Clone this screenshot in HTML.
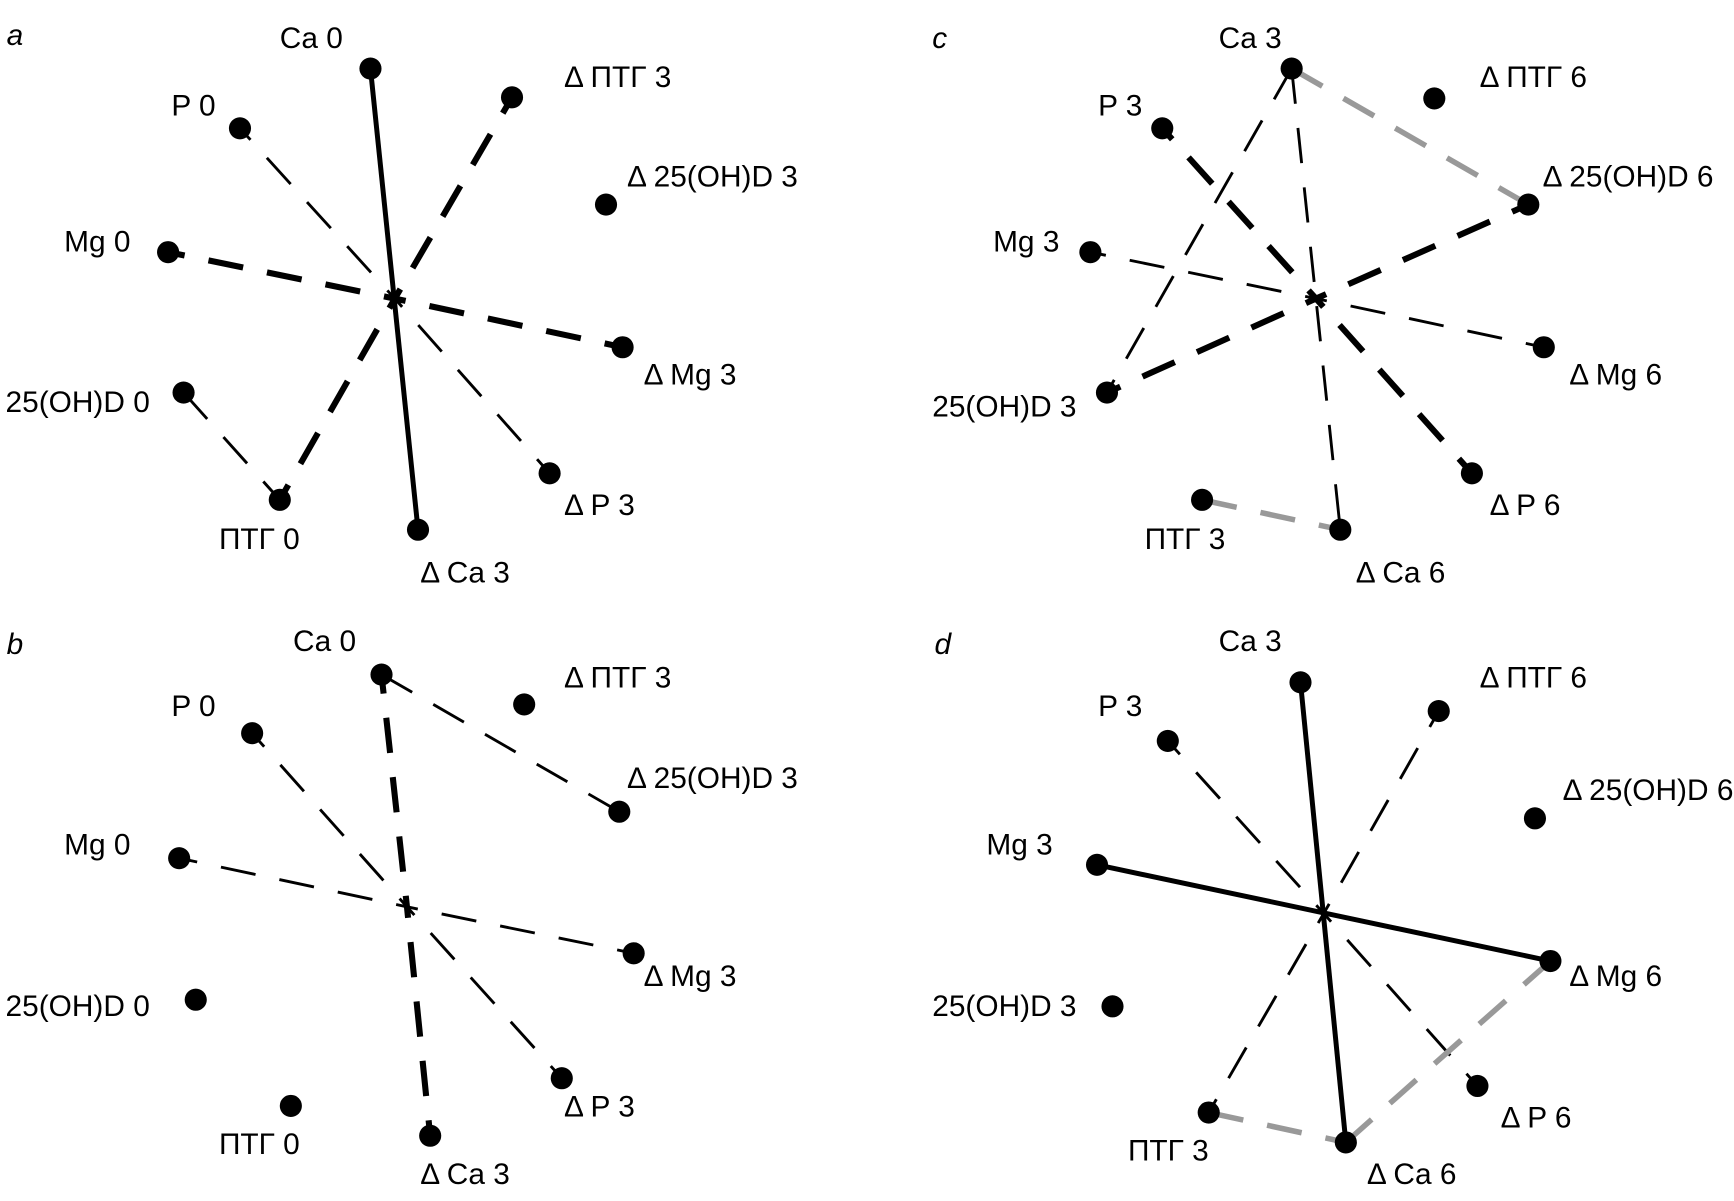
<!DOCTYPE html>
<html><head><meta charset="utf-8"><style>
html,body{margin:0;padding:0;background:#fff;}
svg{display:block;}
text{font-family:"Liberation Sans",sans-serif;font-size:27px;fill:#000;dominant-baseline:central;}
.it{font-style:italic;}
.tk{stroke:#000;stroke-width:5.5;stroke-dasharray:32 22;stroke-dashoffset:22;fill:none;}
.tn{stroke:#000;stroke-width:2.6;stroke-dasharray:32 22;stroke-dashoffset:22;fill:none;}
.sd{stroke:#000;stroke-width:4.5;fill:none;}
.gr{stroke:#999;stroke-width:5;stroke-dasharray:32 22;fill:none;}
.tnp{stroke:#000;stroke-width:2.6;stroke-dasharray:32 22;fill:none;}
</style></head><body>
<svg width="1734" height="1201" viewBox="0 0 1568 1086" preserveAspectRatio="none" xmlns="http://www.w3.org/2000/svg">
<!-- Panel a -->
<g>
<line class="sd" x1="335" y1="62" x2="378" y2="479"/>
<line class="tk" x1="357" y1="270" x2="463" y2="88"/>
<line class="tk" x1="357" y1="270" x2="253" y2="452"/>
<line class="tn" x1="357" y1="270" x2="217" y2="116"/>
<line class="tn" x1="357" y1="270" x2="497" y2="428"/>
<line class="tk" x1="357" y1="270" x2="152" y2="228"/>
<line class="tk" x1="357" y1="270" x2="563" y2="314"/>
<line class="tnp" x1="166" y1="355" x2="253" y2="452"/>
<g fill="#000">
<circle cx="335" cy="62" r="10"/><circle cx="463" cy="88" r="10"/><circle cx="217" cy="116" r="10"/>
<circle cx="548" cy="185" r="10"/><circle cx="152" cy="228" r="10"/><circle cx="563" cy="314" r="10"/>
<circle cx="166" cy="355" r="10"/><circle cx="253" cy="452" r="10"/><circle cx="497" cy="428" r="10"/>
<circle cx="378" cy="479" r="10"/></g>
<text class="it" x="6" y="32">a</text>
<text x="253" y="35">Ca 0</text><text x="510" y="70">Δ ПТГ 3</text><text x="155" y="96">P 0</text>
<text x="567" y="160">Δ 25(OH)D 3</text><text x="58" y="219">Mg 0</text><text x="582" y="339">Δ Mg 3</text>
<text x="5" y="364">25(OH)D 0</text><text x="198" y="488">ПТГ 0</text><text x="510" y="457">Δ P 3</text>
<text x="380" y="518">Δ Ca 3</text>
</g>
<!-- Panel b -->
<g>
<line class="tk" x1="368" y1="820" x2="345" y2="610"/>
<line class="tk" x1="368" y1="820" x2="389" y2="1027"/>
<line class="tnp" x1="345" y1="610" x2="560" y2="734"/>
<line class="tn" x1="368" y1="820" x2="228" y2="663"/>
<line class="tn" x1="368" y1="820" x2="508" y2="975"/>
<line class="tn" x1="368" y1="820" x2="162" y2="776"/>
<line class="tn" x1="368" y1="820" x2="573" y2="862"/>
<g fill="#000">
<circle cx="345" cy="610" r="10"/><circle cx="474" cy="637" r="10"/><circle cx="228" cy="663" r="10"/>
<circle cx="560" cy="734" r="10"/><circle cx="162" cy="776" r="10"/><circle cx="573" cy="862" r="10"/>
<circle cx="177" cy="904" r="10"/><circle cx="263" cy="1000" r="10"/><circle cx="508" cy="975" r="10"/>
<circle cx="389" cy="1027" r="10"/></g>
<text class="it" x="6" y="583">b</text>
<text x="265" y="580">Ca 0</text><text x="510" y="613">Δ ПТГ 3</text><text x="155" y="639">P 0</text>
<text x="567" y="704">Δ 25(OH)D 3</text><text x="58" y="764">Mg 0</text><text x="582" y="883">Δ Mg 3</text>
<text x="5" y="910">25(OH)D 0</text><text x="198" y="1035">ПТГ 0</text><text x="510" y="1001">Δ P 3</text>
<text x="380" y="1062">Δ Ca 3</text>
</g>
<!-- Panel c -->
<g>
<line class="gr" x1="1168" y1="62" x2="1382" y2="185"/>
<line class="tnp" x1="1168" y1="62" x2="1001" y2="355"/>
<line class="tnp" x1="1168" y1="62" x2="1212" y2="479"/>
<line class="tk" x1="1190" y1="270" x2="1051" y2="116"/>
<line class="tk" x1="1190" y1="270" x2="1331" y2="428"/>
<line class="tn" x1="1190" y1="270" x2="986" y2="228"/>
<line class="tn" x1="1190" y1="270" x2="1396" y2="314"/>
<line class="tk" x1="1190" y1="270" x2="1001" y2="355"/>
<line class="tk" x1="1190" y1="270" x2="1382" y2="185"/>
<line class="gr" x1="1087" y1="452" x2="1212" y2="479"/>
<g fill="#000">
<circle cx="1168" cy="62" r="10"/><circle cx="1297" cy="89" r="10"/><circle cx="1051" cy="116" r="10"/>
<circle cx="1382" cy="185" r="10"/><circle cx="986" cy="228" r="10"/><circle cx="1396" cy="314" r="10"/>
<circle cx="1001" cy="355" r="10"/><circle cx="1087" cy="452" r="10"/><circle cx="1331" cy="428" r="10"/>
<circle cx="1212" cy="479" r="10"/></g>
<text class="it" x="843" y="35">c</text>
<text x="1102" y="35">Ca 3</text><text x="1338" y="70">Δ ПТГ 6</text><text x="993" y="96">P 3</text>
<text x="1395" y="160">Δ 25(OH)D 6</text><text x="898" y="219">Mg 3</text><text x="1419" y="339">Δ Mg 6</text>
<text x="843" y="368">25(OH)D 3</text><text x="1035" y="488">ПТГ 3</text><text x="1347" y="457">Δ P 6</text>
<text x="1226" y="518">Δ Ca 6</text>
</g>
<!-- Panel d -->
<g>
<line class="sd" x1="1176" y1="617" x2="1217" y2="1033"/>
<line class="sd" x1="992" y1="782" x2="1402" y2="869"/>
<line class="tn" x1="1197" y1="826" x2="1301" y2="643"/>
<line class="tn" x1="1197" y1="826" x2="1093" y2="1006"/>
<line class="tn" x1="1197" y1="826" x2="1056" y2="670"/>
<line class="tn" x1="1197" y1="826" x2="1336" y2="982"/>
<line class="gr" x1="1402" y1="869" x2="1217" y2="1033"/>
<line class="gr" x1="1093" y1="1006" x2="1217" y2="1033"/>
<g fill="#000">
<circle cx="1176" cy="617" r="10"/><circle cx="1301" cy="643" r="10"/><circle cx="1056" cy="670" r="10"/>
<circle cx="1388" cy="740" r="10"/><circle cx="992" cy="782" r="10"/><circle cx="1402" cy="869" r="10"/>
<circle cx="1006" cy="910" r="10"/><circle cx="1093" cy="1006" r="10"/><circle cx="1336" cy="982" r="10"/>
<circle cx="1217" cy="1033" r="10"/></g>
<text class="it" x="845" y="583">d</text>
<text x="1102" y="580">Ca 3</text><text x="1338" y="613">Δ ПТГ 6</text><text x="993" y="639">P 3</text>
<text x="1413" y="715">Δ 25(OH)D 6</text><text x="892" y="764">Mg 3</text><text x="1419" y="883">Δ Mg 6</text>
<text x="843" y="910">25(OH)D 3</text><text x="1020" y="1041">ПТГ 3</text><text x="1357" y="1011">Δ P 6</text>
<text x="1236" y="1062">Δ Ca 6</text>
</g>
</svg>
</body></html>
